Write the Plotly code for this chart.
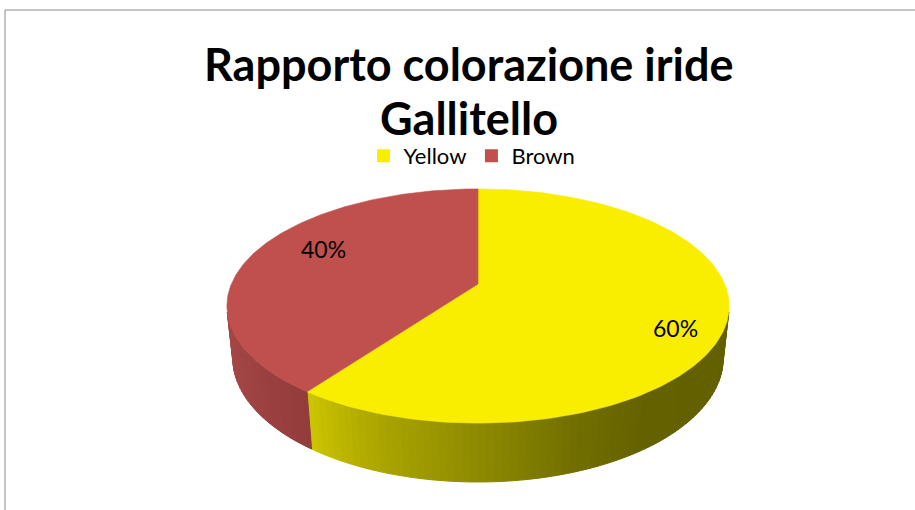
import numpy as np
import plotly.graph_objects as go

# ---- data -------------------------------------------------------------
categories = ["Yellow", "Brown"]
values = [60, 40]                       # percent
top_colors = ["#F9EE00", "#C0504D"]

title_lines = ["Rapporto colorazione iride", "Gallitello"]

# ---- 3D pie geometry (screen pixels) -------------------------------------
W, H_PX = 915, 510
CX, CY = 478, 284           # projected pie centre on the top face
FOCAL = 1166.0
CAM_DIST = 4.728            # camera distance in pie radii
TILT = np.radians(27.26)    # viewing elevation
DEPTH = 0.239               # pie thickness in pie radii

# side-wall shading: (angle, rgb) stops for each slice
side_shading = {
    "Yellow": [(104, (98, 95, 0)), (145, (100, 97, 0)), (160, (112, 109, 0)),
               (180, (142, 138, 0)), (200, (172, 166, 0)), (216, (204, 197, 0))],
    "Brown": [(216, (146, 60, 60)), (224, (152, 62, 62)), (240, (160, 67, 67)),
              (257, (167, 71, 71))],
}

label_radius = {"Yellow": 0.83, "Brown": 0.74}
label_turn = 8.0            # degrees, clockwise shift of label anchor

FONT = "Lato, Open Sans, sans-serif"


def project(theta_deg, r=1.0, z=0.0):
    t = np.radians(theta_deg)
    X = r * np.sin(t)
    Y = r * np.cos(t)
    d = CAM_DIST + Y * np.cos(TILT) - z * np.sin(TILT)
    xs = CX + FOCAL * X / d
    ys = CY - FOCAL * (Y * np.sin(TILT) + z * np.cos(TILT)) / d
    return xs, ys


def shade(stops, ang):
    angs = [s[0] for s in stops]
    rgb = [np.interp(ang, angs, [s[1][i] for s in stops]) for i in range(3)]
    return "rgb({:.0f},{:.0f},{:.0f})".format(*rgb)


fig = go.Figure()

# slice angles, clockwise from 12 o'clock
total = float(sum(values))
bounds = np.concatenate([[0.0], np.cumsum(values) / total * 360.0])

# visible part of the cylinder wall
vis = np.degrees(np.arccos(-1.0 / (CAM_DIST * np.cos(TILT))))
vis_lo, vis_hi = vis, 360.0 - vis

# side walls
for name, a0, a1 in zip(categories, bounds[:-1], bounds[1:]):
    lo, hi = max(a0, vis_lo), min(a1, vis_hi)
    if lo >= hi:
        continue
    n = max(2, int(np.ceil((hi - lo) / 1.5)))
    edges = np.linspace(lo, hi, n + 1)
    for e0, e1 in zip(edges[:-1], edges[1:]):
        th = np.linspace(e0, e1, 4)
        tx, ty = project(th)
        bx, by = project(th[::-1], z=-DEPTH)
        col = shade(side_shading[name], 0.5 * (e0 + e1))
        fig.add_trace(go.Scatter(
            x=np.concatenate([tx, bx, tx[:1]]),
            y=np.concatenate([ty, by, ty[:1]]),
            mode="lines", fill="toself", fillcolor=col,
            line=dict(color=col, width=1),
            hoverinfo="skip", showlegend=False))

# top faces
for name, v, col, a0, a1 in zip(categories, values, top_colors, bounds[:-1], bounds[1:]):
    th = np.linspace(a0, a1, 200)
    ax, ay = project(th)
    cx0, cy0 = project(0.0, r=0.0)
    fig.add_trace(go.Scatter(
        x=np.concatenate([[cx0], ax, [cx0]]),
        y=np.concatenate([[cy0], ay, [cy0]]),
        mode="lines", fill="toself", fillcolor=col,
        line=dict(color=col, width=0.6),
        name=name, hoverinfo="name", showlegend=False))
    mid = 0.5 * (a0 + a1) + label_turn
    lx, ly = project(mid, r=label_radius[name])
    fig.add_annotation(x=float(lx), y=float(ly), text=f"{v}%", showarrow=False,
                       font=dict(family=FONT, size=23, color="#000000"))

# legend entries
for name, col in zip(categories, top_colors):
    fig.add_trace(go.Scatter(
        x=[None], y=[None], mode="markers", name=name,
        marker=dict(symbol="square", size=13, color=col)))

# title
for line, ypos in zip(title_lines, [64, 118]):
    fig.add_annotation(x=469, y=ypos, text=f"<b>{line}</b>", showarrow=False,
                       font=dict(family=FONT, size=45, color="#000000"))

# chart-area frame
fig.add_shape(type="rect", x0=5, y0=10, x1=W + 40, y1=H_PX + 40,
              line=dict(color="#8C8C8C", width=1), layer="below")

fig.update_layout(
    width=W, height=H_PX,
    margin=dict(l=0, r=0, t=0, b=0),
    paper_bgcolor="white", plot_bgcolor="white",
    xaxis=dict(range=[0, W], visible=False, fixedrange=True),
    yaxis=dict(range=[H_PX, 0], visible=False, fixedrange=True),
    showlegend=True,
    legend=dict(orientation="h", x=472 / W, xanchor="center",
                y=1 - 156 / H_PX, yanchor="middle",
                font=dict(family=FONT, size=22, color="#000000"),
                bgcolor="rgba(0,0,0,0)", itemclick=False, itemdoubleclick=False),
)

fig.write_html("out.html")
